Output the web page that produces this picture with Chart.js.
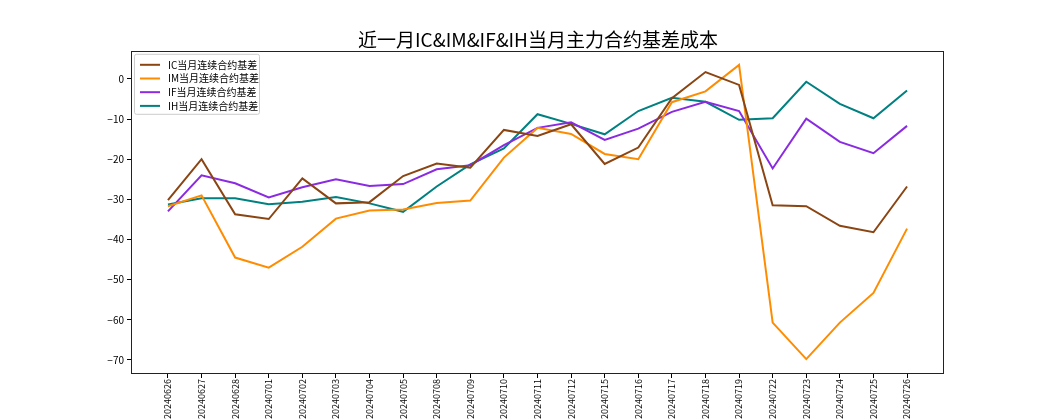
<!DOCTYPE html>
<html lang="zh">
<head>
    <meta charset="UTF-8">
    <title>近一月IC&IM&IF&IH当月主力合约基差成本</title>
    <script src="https://cdn.jsdelivr.net/npm/chart.js"></script>
    <style>
        body { margin: 0; padding: 0; background: #fff; }
        canvas { display: block; }
    </style>
</head>
<body>
    <canvas id="basisChart" width="1050" height="420"></canvas>

    <script>
        // dates on the x axis
        const dates = ['20240626','20240627','20240628','20240701','20240702','20240703','20240704','20240705',
                       '20240708','20240709','20240710','20240711','20240712','20240715','20240716','20240717',
                       '20240718','20240719','20240722','20240723','20240724','20240725','20240726'];

        // basis values
        const icBasis = [-30.2, -20, -33.7, -34.9, -24.8, -31, -30.7, -24.2,
                         -21.1, -22.1, -12.7, -14.2, -11.3, -21.2, -17.1, -4.8,
                         1.7, -1.5, -31.5, -31.7, -36.6, -38.2, -26.8];
        const imBasis = [-31.7, -29, -44.5, -47, -41.8, -34.8, -32.8, -32.5,
                         -30.9, -30.3, -19.6, -12.2, -13.7, -18.7, -20, -5.8,
                         -3.1, 3.5, -60.7, -69.8, -60.7, -53.3, -37.3];
        const ifBasis = [-33, -24, -26, -29.5, -27, -25, -26.7, -26.2,
                         -22.5, -21.5, -16.5, -12.2, -10.8, -15.2, -12.4, -8.2,
                         -5.7, -8, -22.3, -9.9, -15.7, -18.5, -11.7];
        const ihBasis = [-31.3, -29.7, -29.7, -31.2, -30.6, -29.4, -31, -33.1,
                         -26.8, -21.3, -17.3, -8.8, -11.2, -13.8, -8, -4.7,
                         -5.7, -10.2, -9.8, -0.7, -6.2, -9.8, -2.9];

        const yTicks = [-70, -60, -50, -40, -30, -20, -10, 0];

        const fontFamily = '"Noto Sans CJK SC", "DejaVu Sans", sans-serif';

        function toPoints(values) {
            return values.map((v, i) => ({ x: i, y: v }));
        }

        // legend box in the upper-left corner plus a frame around the plot
        const frameAndLegend = {
            id: 'frameAndLegend',
            afterDraw(chart) {
                const ctx = chart.ctx;
                const area = chart.chartArea;
                ctx.save();
                ctx.strokeStyle = '#222';
                ctx.lineWidth = 1;
                ctx.strokeRect(Math.round(area.left) + 0.5, Math.round(area.top) + 0.5,
                               Math.round(area.right - area.left) - 1, Math.round(area.bottom - area.top) - 1);

                const sets = chart.data.datasets;
                const bx = area.left + 3, by = area.top + 3;
                const bw = 125, bh = 60;
                ctx.fillStyle = 'rgba(255,255,255,0.8)';
                ctx.strokeStyle = '#ccc';
                ctx.beginPath();
                ctx.roundRect(bx + 0.5, by + 0.5, bw, bh, 2);
                ctx.fill();
                ctx.stroke();

                ctx.font = '10px ' + fontFamily;
                ctx.textBaseline = 'middle';
                sets.forEach((ds, i) => {
                    const yy = by + 11 + i * 13.7;
                    ctx.strokeStyle = ds.borderColor;
                    ctx.lineWidth = 2;
                    ctx.beginPath();
                    ctx.moveTo(bx + 6, yy);
                    ctx.lineTo(bx + 26, yy);
                    ctx.stroke();
                    ctx.fillStyle = '#000';
                    ctx.fillText(ds.label, bx + 34, yy);
                });
                ctx.restore();
            }
        };

        const ctx = document.getElementById('basisChart').getContext('2d');
        new Chart(ctx, {
            type: 'line',
            data: {
                datasets: [
                    { label: 'IC当月连续合约基差', data: toPoints(icBasis), borderColor: '#8B4513' },
                    { label: 'IM当月连续合约基差', data: toPoints(imBasis), borderColor: '#FF8C00' },
                    { label: 'IF当月连续合约基差', data: toPoints(ifBasis), borderColor: '#8A2BE2' },
                    { label: 'IH当月连续合约基差', data: toPoints(ihBasis), borderColor: '#008080' }
                ]
            },
            options: {
                responsive: false,
                animation: false,
                elements: {
                    line: { borderWidth: 2, tension: 0, fill: false },
                    point: { radius: 0 }
                },
                // left padding + blank right axis keep the title centred over the plot
                layout: { padding: { left: 26, right: 0, top: 0, bottom: 0 } },
                plugins: {
                    legend: { display: false },
                    tooltip: { enabled: false },
                    title: {
                        display: true,
                        text: '近一月IC&IM&IF&IH当月主力合约基差成本',
                        color: '#000',
                        font: { family: fontFamily, size: 19, weight: 'normal' },
                        padding: { top: 28, bottom: 0 }
                    }
                },
                scales: {
                    x: {
                        type: 'linear',
                        min: -1.1,
                        max: dates.length - 1 + 1.1,
                        afterBuildTicks(axis) {
                            axis.ticks = dates.map((d, i) => ({ value: i }));
                        },
                        afterFit(axis) { axis.height = 46; },
                        ticks: {
                            callback: (v) => dates[v],
                            autoSkip: false,
                            minRotation: 90,
                            maxRotation: 90,
                            padding: 1,
                            color: '#000',
                            font: { family: fontFamily, size: 9 }
                        },
                        grid: { drawOnChartArea: false, drawTicks: true, tickLength: 4, color: '#000' },
                        border: { display: false }
                    },
                    y: {
                        min: -73.5,
                        max: 7.0,
                        afterBuildTicks(axis) {
                            axis.ticks = yTicks.map(v => ({ value: v }));
                        },
                        afterFit(axis) { axis.width = 105; },
                        ticks: {
                            // matplotlib style minus sign
                            callback: (v) => String(v).replace('-', '\u2212'),
                            padding: 3,
                            color: '#000',
                            font: { family: fontFamily, size: 10 }
                        },
                        grid: { drawOnChartArea: false, drawTicks: true, tickLength: 4, color: '#000' },
                        border: { display: false }
                    },
                    yRight: {
                        position: 'right',
                        min: -73.5,
                        max: 7.0,
                        afterFit(axis) { axis.width = 106; },
                        ticks: { display: false },
                        grid: { display: false },
                        border: { display: false }
                    }
                }
            },
            plugins: [frameAndLegend]
        });
    </script>
</body>
</html>
